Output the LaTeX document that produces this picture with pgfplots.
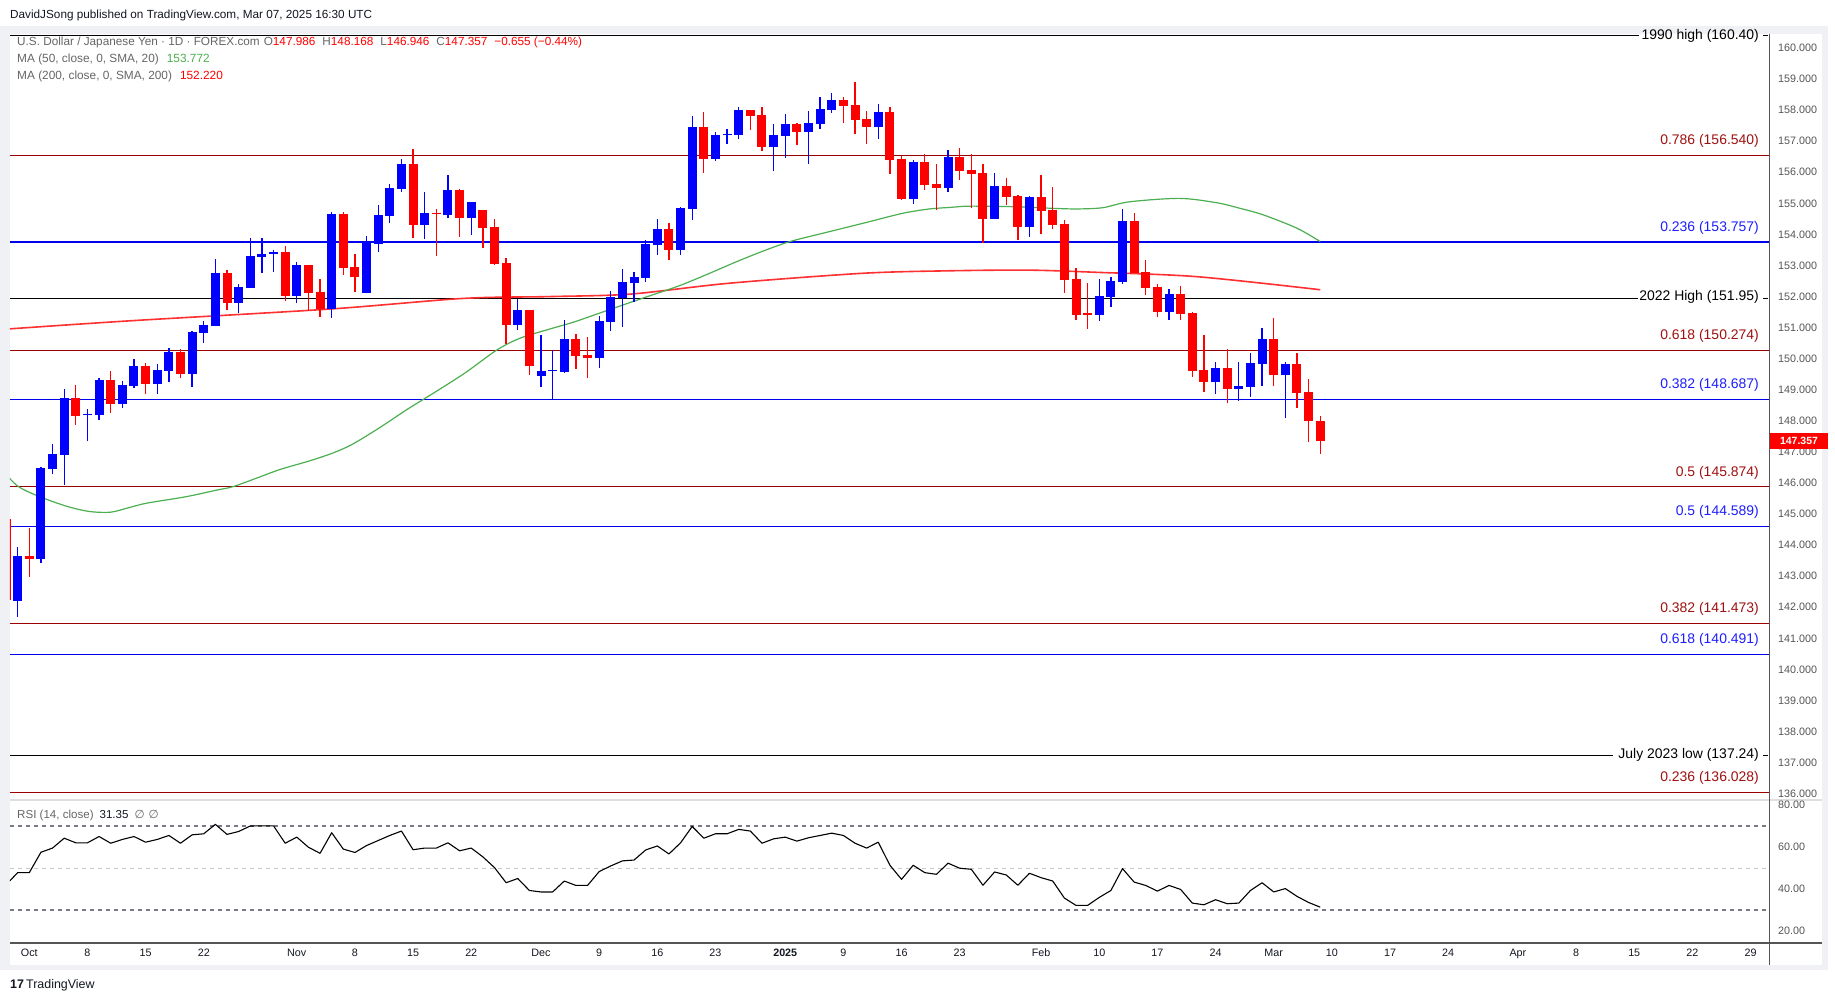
\documentclass[border=0pt]{standalone}
\usepackage{pgfplots}
\pgfplotsset{compat=1.18}
\usepackage{fontspec}
\setmainfont{Liberation Sans}
\newfontfamily\djv{DejaVu Sans}
\definecolor{cblue}{HTML}{0000FF}
\definecolor{cred}{HTML}{FF0000}
\definecolor{fibred}{HTML}{990000}
\definecolor{fibredtxt}{HTML}{A01010}
\definecolor{fibblue}{HTML}{0000EE}
\definecolor{fibbluetxt}{HTML}{1E1EFF}
\definecolor{smagreen}{HTML}{4CAF50}
\definecolor{smared}{HTML}{FF3030}
\definecolor{axgray}{HTML}{555555}
\definecolor{dashgray}{HTML}{787B86}
\definecolor{lgdgray}{HTML}{666666}
\definecolor{framec}{HTML}{F0F1F4}
\definecolor{darktext}{HTML}{131722}
\newcommand\fs[1]{\fontsize{#1}{#1}\selectfont}
\begin{document}
\begin{tikzpicture}
\fill[white] (0,0) rectangle (1835bp,-1003bp);
\fill[framec] (0,-26bp) rectangle (1828bp,-970bp);
\fill[white] (10bp,-34bp) rectangle (1822bp,-965bp);
\draw[gray!25, line width=1.2bp] (10bp,-800bp) -- (1822bp,-800bp);

\begin{axis}[
 at={(10bp,-800bp)}, anchor=south west, width=1759bp, height=766bp, scale only axis,
 xmin=-1.66, xmax=149.59, ymin=135.796, ymax=160.451,
 axis line style={draw=none}, major tick length=0pt, xtick=\empty,
 ytick={136,137,...,160}, yticklabel pos=right, scaled y ticks=false,
 /pgf/number format/assume math mode=true,
 yticklabel style={font=\fs{10.8}, text=axgray, anchor=west, inner sep=0pt, xshift=9bp,
   /pgf/number format/fixed, /pgf/number format/fixed zerofill, /pgf/number format/precision=3},
 unbounded coords=jump, clip=true,
]
% horizontal levels
\addplot[black, line width=1.1bp] coordinates {(-1.66,160.40) (138.4,160.40)};
\addplot[fibred, line width=1.2bp] coordinates {(-1.66,156.54) (149.59,156.54)};
\addplot[fibblue, line width=1.2bp] coordinates {(-1.66,153.757) (149.59,153.757)};
\addplot[black, line width=1.1bp] coordinates {(-1.66,151.95) (138.3,151.95)};
\addplot[fibred, line width=1.2bp] coordinates {(-1.66,150.274) (149.59,150.274)};
\addplot[fibblue, line width=1.2bp] coordinates {(-1.66,148.687) (149.59,148.687)};
\addplot[fibred, line width=1.2bp] coordinates {(-1.66,145.874) (149.59,145.874)};
\addplot[fibblue, line width=1.2bp] coordinates {(-1.66,144.589) (149.59,144.589)};
\addplot[fibred, line width=1.2bp] coordinates {(-1.66,141.473) (149.59,141.473)};
\addplot[fibblue, line width=1.2bp] coordinates {(-1.66,140.491) (149.59,140.491)};
\addplot[black, line width=1.1bp] coordinates {(-1.66,137.24) (136.2,137.24)};
\addplot[fibred, line width=1.2bp] coordinates {(-1.66,136.028) (149.59,136.028)};
% moving averages
\addplot[smared, line width=1.6bp, smooth] coordinates {(-1.7,150.96) (8.67,151.22) (25.9,151.6) (37.3,151.94) (44.8,152.0) (51.7,152.08) (60.2,152.43) (71.7,152.75) (79.2,152.83) (86,152.85) (91.8,152.78) (100.4,152.64) (111,152.22)};
\addplot[smagreen, line width=1.2bp, smooth] coordinates {(-1.7,146.15) (-1,145.9) (0,145.7) (1.8,145.43) (3.5,145.22) (5.2,145.08) (7,145.06) (8.5,145.2) (10.1,145.35) (13.5,145.56) (16.1,145.77) (17.5,145.88) (19.5,146.15) (21.6,146.44) (24,146.7) (26,146.95) (27.7,147.23) (30,147.75) (32.5,148.37) (35,148.95) (37.5,149.55) (40.2,150.28) (42.2,150.66) (44.8,150.96) (46.9,151.19) (50.2,151.62) (53,151.98) (55.9,152.35) (58.5,152.75) (60.8,153.12) (63,153.45) (65.4,153.77) (68.8,154.09) (71.7,154.36) (75.1,154.68) (77.4,154.82) (79.2,154.87) (80.9,154.91) (84.9,154.89) (88,154.84) (90.1,154.82) (92.3,154.86) (94.6,155.05) (98.9,155.16) (102.1,155.02) (104,154.85) (106.1,154.63) (109,154.20) (111,153.77)};
% up candles: wicks (low, high)
\addplot[cblue, line width=1.3bp] coordinates {
(-1,141.68) (-1,143.94) (-1,nan) (1,143.43) (1,146.52) (1,nan) (2,146.29) (2,147.25) (2,nan) (3,145.94) (3,149.02) (3,nan)
(5,147.35) (5,148.38) (5,nan) (6,148.03) (6,149.38) (6,nan) (8,148.42) (8,149.28) (8,nan) (9,149.07) (9,149.99) (9,nan)
(11,148.87) (11,149.83) (11,nan) (12,149.26) (12,150.34) (12,nan) (14,149.10) (14,150.89) (14,nan) (15,150.52) (15,151.21) (15,nan)
(16,151.04) (16,153.21) (16,nan) (18,151.47) (18,152.41) (18,nan) (19,152.29) (19,153.88) (19,nan) (20,152.77) (20,153.88) (20,nan)
(21,152.80) (21,153.50) (21,nan) (23,151.80) (23,153.11) (23,nan) (26,151.32) (26,154.72) (26,nan) (29,152.10) (29,153.95) (29,nan)
(30,153.44) (30,154.95) (30,nan) (31,154.38) (31,155.62) (31,nan) (32,155.38) (32,156.43) (32,nan) (34,153.86) (34,155.37) (34,nan)
(36,154.54) (36,155.91) (36,nan) (38,153.99) (38,155.04) (38,nan) (42,150.93) (42,151.93) (42,nan) (44,149.10) (44,150.77) (44,nan)
(45,148.70) (45,150.27) (45,nan) (46,149.55) (46,151.25) (46,nan) (49,149.71) (49,151.37) (49,nan) (50,150.90) (50,152.18) (50,nan)
(51,151.03) (51,152.89) (51,nan) (52,151.83) (52,152.79) (52,nan) (53,152.48) (53,153.82) (53,nan) (54,153.35) (54,154.50) (54,nan)
(56,153.35) (56,154.88) (56,nan) (57,154.47) (57,157.81) (57,nan) (59,156.37) (59,157.30) (59,nan) (60,156.92) (60,157.39) (60,nan)
(61,157.07) (61,158.10) (61,nan) (64,156.04) (64,157.55) (64,nan) (65,156.46) (65,157.88) (65,nan) (67,156.27) (67,157.97) (67,nan)
(68,157.39) (68,158.42) (68,nan) (69,157.92) (69,158.55) (69,nan) (73,157.07) (73,158.20) (73,nan) (76,154.98) (76,156.40) (76,nan)
(79,155.37) (79,156.72) (79,nan) (83,154.50) (83,155.98) (83,nan) (86,153.92) (86,155.24) (86,nan) (92,151.21) (92,152.57) (92,nan)
(93,151.66) (93,152.63) (93,nan) (94,152.40) (94,154.82) (94,nan) (98,151.25) (98,152.24) (98,nan) (102,148.86) (102,149.89) (102,nan)
(104,148.64) (104,149.89) (104,nan) (105,148.77) (105,150.18) (105,nan) (106,149.12) (106,150.99) (106,nan) (108,148.09) (108,149.89) (108,nan)};
% up candles: bodies (open, close)
\addplot[cblue, line width=9bp, line cap=butt] coordinates {
(-1,142.21) (-1,143.65) (-1,nan) (1,143.56) (1,146.48) (1,nan) (2,146.46) (2,146.93) (2,nan) (3,146.91) (3,148.74) (3,nan)
(5,148.19) (5,148.23) (5,nan) (6,148.20) (6,149.31) (6,nan) (8,148.55) (8,149.15) (8,nan) (9,149.13) (9,149.77) (9,nan)
(11,149.20) (11,149.64) (11,nan) (12,149.61) (12,150.22) (12,nan) (14,149.52) (14,150.86) (14,nan) (15,150.84) (15,151.08) (15,nan)
(16,151.06) (16,152.76) (16,nan) (18,151.80) (18,152.31) (18,nan) (19,152.29) (19,153.31) (19,nan) (20,153.28) (20,153.37) (20,nan)
(21,153.37) (21,153.43) (21,nan) (23,152.03) (23,153.02) (23,nan) (26,151.61) (26,154.66) (26,nan) (29,152.12) (29,153.76) (29,nan)
(30,153.70) (30,154.62) (30,nan) (31,154.60) (31,155.49) (31,nan) (32,155.47) (32,156.27) (32,nan) (34,154.31) (34,154.69) (34,nan)
(36,154.63) (36,155.43) (36,nan) (38,154.54) (38,155.04) (38,nan) (42,151.09) (42,151.57) (42,nan) (44,149.45) (44,149.61) (44,nan)
(45,149.59) (45,149.63) (45,nan) (46,149.58) (46,150.63) (46,nan) (49,150.03) (49,151.21) (49,nan) (50,151.19) (50,151.99) (50,nan)
(51,151.95) (51,152.47) (51,nan) (52,152.45) (52,152.63) (52,nan) (53,152.61) (53,153.69) (53,nan) (54,153.67) (54,154.17) (54,nan)
(56,153.51) (56,154.85) (56,nan) (57,154.83) (57,157.46) (57,nan) (59,156.44) (59,157.20) (59,nan) (60,157.20) (60,157.24) (60,nan)
(61,157.20) (61,158.00) (61,nan) (64,156.81) (64,157.20) (64,nan) (65,157.17) (65,157.55) (65,nan) (67,157.30) (67,157.59) (67,nan)
(68,157.55) (68,158.04) (68,nan) (69,158.01) (69,158.33) (69,nan) (73,157.46) (73,157.94) (73,nan) (76,155.14) (76,156.33) (76,nan)
(79,155.49) (79,156.49) (79,nan) (83,154.50) (83,155.56) (83,nan) (86,154.24) (86,155.20) (86,nan) (92,151.41) (92,152.02) (92,nan)
(93,151.99) (93,152.50) (93,nan) (94,152.47) (94,154.43) (94,nan) (98,151.50) (98,152.08) (98,nan) (102,149.25) (102,149.70) (102,nan)
(104,149.02) (104,149.12) (104,nan) (105,149.09) (105,149.86) (105,nan) (106,149.83) (106,150.63) (106,nan) (108,149.48) (108,149.83) (108,nan)};
% down candles: wicks (low, high)
\addplot[cred, line width=1.3bp] coordinates {
(-2,142.20) (-2,144.90) (-2,nan) (0,142.98) (0,144.56) (0,nan) (4,147.87) (4,149.15) (4,nan) (7,148.26) (7,149.60) (7,nan)
(10,148.87) (10,149.85) (10,nan) (13,149.39) (13,150.30) (13,nan) (17,151.58) (17,152.85) (17,nan) (22,151.87) (22,153.63) (22,nan)
(24,151.55) (24,153.02) (24,nan) (25,151.35) (25,152.57) (25,nan) (27,152.70) (27,154.72) (27,nan) (28,152.16) (28,153.37) (28,nan)
(33,153.89) (33,156.75) (33,nan) (35,153.31) (35,154.82) (35,nan) (37,153.93) (37,155.46) (37,nan) (39,153.57) (39,154.79) (39,nan)
(40,153.03) (40,154.50) (40,nan) (41,150.48) (41,153.24) (41,nan) (43,149.48) (43,151.57) (43,nan) (47,149.68) (47,150.79) (47,nan)
(48,149.39) (48,150.70) (48,nan) (55,153.19) (55,154.37) (55,nan) (58,155.99) (58,157.94) (58,nan) (62,157.36) (62,158.00) (62,nan)
(63,156.68) (63,158.10) (63,nan) (66,156.88) (66,157.59) (66,nan) (70,157.59) (70,158.42) (70,nan) (71,157.23) (71,158.91) (71,nan)
(72,156.91) (72,157.97) (72,nan) (74,155.94) (74,158.10) (74,nan) (75,155.11) (75,156.52) (75,nan) (77,155.43) (77,156.59) (77,nan)
(78,154.79) (78,156.27) (78,nan) (80,155.75) (80,156.78) (80,nan) (81,154.85) (81,156.59) (81,nan) (82,153.72) (82,156.27) (82,nan)
(84,154.95) (84,155.82) (84,nan) (85,153.82) (85,155.27) (85,nan) (87,154.01) (87,155.91) (87,nan) (88,154.17) (88,155.53) (88,nan)
(89,152.11) (89,154.46) (89,nan) (90,151.25) (90,152.92) (90,nan) (91,150.96) (91,152.44) (91,nan) (95,152.76) (95,154.69) (95,nan)
(96,152.05) (96,153.18) (96,nan) (97,151.34) (97,152.40) (97,nan) (99,151.25) (99,152.34) (99,nan) (100,149.41) (100,151.50) (100,nan)
(101,148.93) (101,150.76) (101,nan) (103,148.57) (103,150.31) (103,nan) (107,149.12) (107,151.31) (107,nan) (109,148.41) (109,150.18) (109,nan)
(110,147.32) (110,149.35) (110,nan) (111,146.946) (111,148.168) (111,nan)};
% down candles: bodies (open, close)
\addplot[cred, line width=9bp, line cap=butt] coordinates {
(-2,144.84) (-2,142.23) (-2,nan) (0,143.65) (0,143.56) (0,nan) (4,148.74) (4,148.17) (4,nan) (7,149.31) (7,148.55) (7,nan)
(10,149.77) (10,149.20) (10,nan) (13,150.22) (13,149.52) (13,nan) (17,152.76) (17,151.80) (17,nan) (22,153.43) (22,152.03) (22,nan)
(24,153.02) (24,152.12) (24,nan) (25,152.15) (25,151.61) (25,nan) (27,154.66) (27,152.93) (27,nan) (28,152.95) (28,152.64) (28,nan)
(33,156.27) (33,154.31) (33,nan) (35,154.70) (35,154.66) (35,nan) (37,155.43) (37,154.54) (37,nan) (39,154.79) (39,154.22) (39,nan)
(40,154.24) (40,153.06) (40,nan) (41,153.08) (41,151.09) (41,nan) (43,151.57) (43,149.77) (43,nan) (47,150.63) (47,150.10) (47,nan)
(48,150.12) (48,150.03) (48,nan) (55,154.17) (55,153.51) (55,nan) (58,157.46) (58,156.44) (58,nan) (62,158.00) (62,157.81) (62,nan)
(63,157.84) (63,156.81) (63,nan) (66,157.55) (66,157.30) (66,nan) (70,158.33) (70,158.13) (70,nan) (71,158.17) (71,157.68) (71,nan)
(72,157.71) (72,157.46) (72,nan) (74,157.94) (74,156.40) (74,nan) (75,156.43) (75,155.14) (75,nan) (77,156.33) (77,155.59) (77,nan)
(78,155.62) (78,155.49) (78,nan) (80,156.49) (80,156.04) (80,nan) (81,156.07) (81,155.95) (81,nan) (82,155.98) (82,154.50) (82,nan)
(84,155.56) (84,155.20) (84,nan) (85,155.24) (85,154.24) (85,nan) (87,155.20) (87,154.75) (87,nan) (88,154.79) (88,154.30) (88,nan)
(89,154.34) (89,152.53) (89,nan) (90,152.57) (90,151.41) (90,nan) (91,151.46) (91,151.42) (91,nan) (95,154.43) (95,152.76) (95,nan)
(96,152.79) (96,152.28) (96,nan) (97,152.31) (97,151.50) (97,nan) (99,152.08) (99,151.44) (99,nan) (100,151.47) (100,149.60) (100,nan)
(101,149.64) (101,149.25) (101,nan) (103,149.70) (103,149.02) (103,nan) (107,150.63) (107,149.48) (107,nan) (109,149.83) (109,148.90) (109,nan)
(110,148.93) (110,147.99) (110,nan) (111,147.986) (111,147.357) (111,nan)};
\end{axis}

\begin{axis}[
 at={(10bp,-943bp)}, anchor=south west, width=1759bp, height=143bp, scale only axis,
 xmin=-1.66, xmax=149.59, ymin=14.29, ymax=82.38,
 axis line style={draw=none}, major tick length=0pt,
 ytick={20,40,60,80}, yticklabel pos=right,
 /pgf/number format/assume math mode=true,
 yticklabel style={font=\fs{10.8}, text=axgray, anchor=west, inner sep=0pt, xshift=9bp,
   /pgf/number format/fixed, /pgf/number format/fixed zerofill, /pgf/number format/precision=2},
 xtick={0,5,10,15,23,28,33,38,44,49,54,59,65,70,75,80,87,92,97,102,107,112,117,122,128,133,138,143,148},
 xticklabels={Oct,8,15,22,Nov,8,15,22,Dec,9,16,23,\textbf{2025},9,16,23,Feb,10,17,24,Mar,10,17,24,Apr,8,15,22,29},
 xticklabel style={font=\fs{10.8}, text=darktext, anchor=north, inner sep=0pt, yshift=-5.5bp},
 clip=true,
]
\addplot[dashgray, line width=1.1bp, dash pattern=on 4bp off 4bp] coordinates {(-1.66,70) (149.59,70)};
\addplot[gray!45, line width=1bp, dash pattern=on 4bp off 4bp] coordinates {(-1.66,50) (149.59,50)};
\addplot[dashgray, line width=1.1bp, dash pattern=on 4bp off 4bp] coordinates {(-1.66,30) (149.59,30)};
\addplot[black, line width=1.1bp, line join=round] coordinates {(-2,42.0) (-1,47.8) (0,47.8) (1,57.5) (2,59.5) (3,64.2) (4,62.0) (5,62.0) (6,65.0) (7,61.8) (8,63.6) (9,65.0) (10,62.3) (11,63.6) (12,65.5) (13,61.8) (14,65.8) (15,66.3) (16,70.8) (17,66.0) (18,67.4) (19,70.0) (20,70.1) (21,70.1) (22,61.8) (23,64.7) (24,59.9) (25,57.0) (26,66.8) (27,59.0) (28,57.4) (29,60.7) (30,63.1) (31,65.5) (32,67.6) (33,58.7) (34,59.5) (35,59.5) (36,62.0) (37,58.2) (38,59.5) (39,55.3) (40,50.2) (41,43.0) (42,45.0) (43,39.3) (44,38.6) (45,38.6) (46,43.8) (47,41.7) (48,41.7) (49,48.3) (50,51.0) (51,53.4) (52,53.8) (53,58.6) (54,60.5) (55,56.7) (56,62.0) (57,69.8) (58,64.2) (59,66.3) (60,66.3) (61,68.4) (62,67.6) (63,61.8) (64,63.9) (65,64.7) (66,62.8) (67,64.4) (68,65.5) (69,66.6) (70,65.5) (71,61.8) (72,59.5) (73,62.3) (74,51.3) (75,44.6) (76,51.3) (77,47.8) (78,47.0) (79,52.3) (80,49.9) (81,49.4) (82,41.8) (83,48.1) (84,46.7) (85,41.8) (86,47.5) (87,45.4) (88,43.8) (89,35.7) (90,32.2) (91,32.2) (92,36.0) (93,39.3) (94,49.7) (95,43.3) (96,41.7) (97,39.0) (98,41.7) (99,39.8) (100,33.3) (101,32.5) (102,34.9) (103,33.0) (104,33.3) (105,39.3) (106,43.0) (107,38.6) (108,40.2) (109,36.5) (110,33.6) (111,31.35)};
\end{axis}

% pane lines
\draw[axgray, line width=1.3bp] (10bp,-943bp) -- (1822bp,-943bp);
\draw[axgray, line width=1bp] (1769bp,-34bp) -- (1769bp,-965bp);
\draw[black, line width=1bp] (1763bp,-35.6bp) -- (1768bp,-35.6bp);
\draw[black, line width=1bp] (1763bp,-298.1bp) -- (1768bp,-298.1bp);
\draw[black, line width=1bp] (1763bp,-755bp) -- (1768bp,-755bp);

% level labels
\begin{scope}[every node/.style={anchor=east, inner sep=0pt, font=\fs{14}}]
\node[text=black] at (1759bp,-35.6bp) {1990 high (160.40)};
\node[text=fibredtxt] at (1759bp,-141bp) {0.786 (156.540)};
\node[text=fibbluetxt] at (1759bp,-227.5bp) {0.236 (153.757)};
\node[text=black] at (1759bp,-297bp) {2022 High (151.95)};
\node[text=fibredtxt] at (1759bp,-335.7bp) {0.618 (150.274)};
\node[text=fibbluetxt] at (1759bp,-385bp) {0.382 (148.687)};
\node[text=fibredtxt] at (1759bp,-472.4bp) {0.5 (145.874)};
\node[text=fibbluetxt] at (1759bp,-512.3bp) {0.5 (144.589)};
\node[text=fibredtxt] at (1759bp,-609bp) {0.382 (141.473)};
\node[text=fibbluetxt] at (1759bp,-639.6bp) {0.618 (140.491)};
\node[text=black] at (1759bp,-755bp) {July 2023 low (137.24)};
\node[text=fibredtxt] at (1759bp,-778bp) {0.236 (136.028)};
\end{scope}

% price tag
\node[fill=cred, text=white, font=\bfseries\fs{10.5}, minimum width=58bp, minimum height=16bp, inner sep=0pt] at (1799bp,-441bp) {147.357};

% header and legends
\node[anchor=west, inner sep=0pt, text=darktext, font=\fs{11.8}] at (10bp,-15bp) {DavidJSong published on TradingView.com, Mar 07, 2025 16:30 UTC};
\node[anchor=west, inner sep=0pt, text=lgdgray, font=\fs{11.8}] at (17bp,-42bp) {U.S. Dollar / Japanese Yen · 1D · FOREX.com\hspace{4bp}O\textcolor{cred}{147.986}\hspace{7bp}H\textcolor{cred}{148.168}\hspace{7bp}L\textcolor{cred}{146.946}\hspace{7bp}C\textcolor{cred}{147.357}\hspace{7bp}\textcolor{cred}{−0.655 (−0.44\%)}};
\node[anchor=west, inner sep=0pt, text=lgdgray, font=\fs{11.9}] at (17bp,-59bp) {MA (50, close, 0, SMA, 20)\hspace{8bp}\textcolor{smagreen}{153.772}};
\node[anchor=west, inner sep=0pt, text=lgdgray, font=\fs{11.9}] at (17bp,-76bp) {MA (200, close, 0, SMA, 200)\hspace{8bp}\textcolor{cred}{152.220}};
\node[anchor=west, inner sep=0pt, text=lgdgray, font=\fs{11.6}] at (17bp,-815bp) {RSI (14, close)\hspace{6bp}\textcolor{darktext}{31.35}\hspace{6bp}{\djv ∅}\hspace{4bp}{\djv ∅}};
\node[anchor=west, inner sep=0pt, text=darktext, font=\fs{12.5}] at (10bp,-985.5bp) {\textbf{17}\,TradingView};

\pgfresetboundingbox
\useasboundingbox (0,0) rectangle (1835bp,-1003bp);
\end{tikzpicture}
\end{document}
